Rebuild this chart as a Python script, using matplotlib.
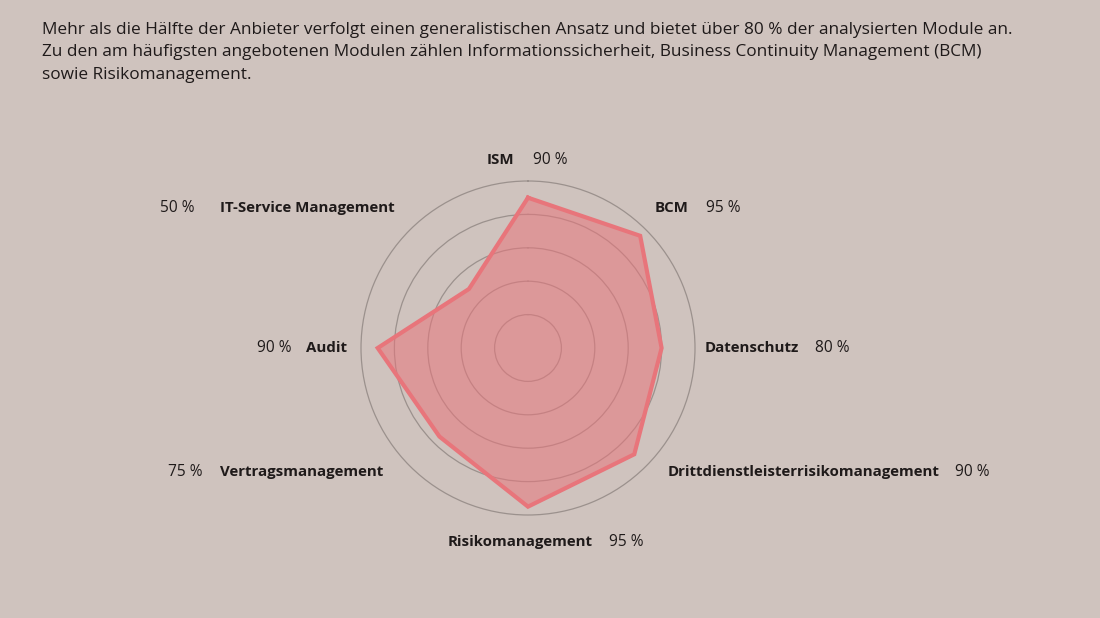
import numpy as np
import matplotlib
matplotlib.use("Agg")
import matplotlib.pyplot as plt

categories = ["ISM", "BCM", "Datenschutz", "Drittdienstleisterrisikomanagement",
              "Risikomanagement", "Vertragsmanagement", "Audit", "IT-Service Management"]
values = [90, 95, 80, 90, 95, 75, 90, 50]
value_labels = ["90 %", "95 %", "80 %", "90 %", "95 %", "75 %", "90 %", "50 %"]
ring_ticks = [20, 40, 60, 80]

intro_lines = [
    "Mehr als die Hälfte der Anbieter verfolgt einen generalistischen Ansatz und bietet über 80 % der analysierten Module an.",
    "Zu den am häufigsten angebotenen Modulen zählen Informationssicherheit, Business Continuity Management (BCM)",
    "sowie Risikomanagement.",
]

BG = "#cfc3be"
TXT = "#1f1a1a"
EDGE = "#e8757b"
GRID = "#9b918d"
W, H = 1100, 618

plt.rcParams['font.family'] = ['Open Sans', 'DejaVu Sans']
fig = plt.figure(figsize=(W / 100, H / 100), dpi=100, facecolor=BG)

cx, cy, R = 528, 348, 167
ax = fig.add_axes([(cx - R) / W, (H - cy - R) / H, 2 * R / W, 2 * R / H], projection="polar")
ax.set_facecolor("none")
ax.set_theta_offset(np.pi / 2)
ax.set_theta_direction(-1)

n = len(categories)
angles = np.arange(n) * 2 * np.pi / n
a_closed = np.concatenate([angles, angles[:1]])
v_closed = np.concatenate([values, values[:1]])

ax.set_ylim(0, 100)
ax.set_yticks(ring_ticks)
ax.set_yticklabels([])
ax.set_xticks([])
ax.yaxis.grid(True, color=GRID, lw=0.9)
ax.xaxis.grid(False)
ax.spines['polar'].set_color(GRID)
ax.spines['polar'].set_linewidth(0.9)

ax.fill(a_closed, v_closed, color=EDGE, alpha=0.55, lw=0, zorder=3)
ax.plot(a_closed, v_closed, color=EDGE, lw=3.0, zorder=4, solid_joinstyle='miter')

# intro text
for i, line in enumerate(intro_lines):
    fig.text(42 / W, 1 - (30 + i * 22.5) / H, line, fontsize=12.4, color=TXT,
             ha='left', va='center')

def px(x, y):
    return x / W, 1 - y / H

# label layout: (name anchor x, value anchor x, y, side)
layout = [
    (487, 533, 160, 'R'),
    (655, 706, 208, 'R'),
    (705, 815, 348, 'R'),
    (668, 955, 472, 'R'),
    (448, 609, 542, 'R'),
    (383, 168, 472, 'L'),
    (347, 257, 348, 'L'),
    (395, 160, 208, 'L'),
]

for name, vl, (nx, vx, y, side) in zip(categories, value_labels, layout):
    fig.text(*px(nx, y), name, fontsize=10.8, fontweight='bold', color=TXT,
             ha='left' if side == 'R' else 'right', va='center')
    fig.text(*px(vx, y), vl, fontsize=11.2, color=TXT,
             ha='left', va='center')

fig.savefig("out.png", dpi=100, facecolor=BG)
